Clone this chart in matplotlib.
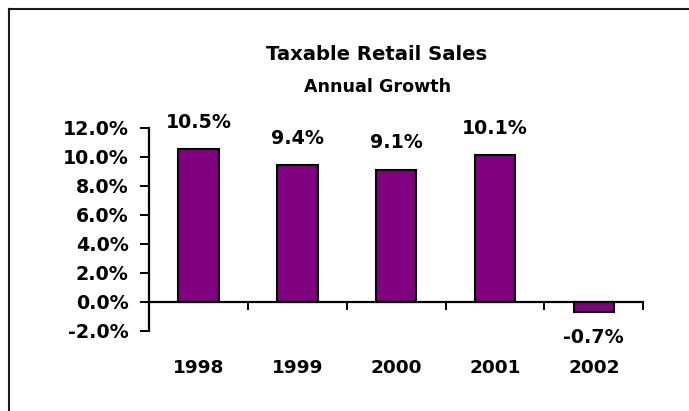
import matplotlib
matplotlib.use("Agg")
import matplotlib.pyplot as plt
from matplotlib.lines import Line2D
from matplotlib.ticker import FixedLocator, FuncFormatter

# Annual growth of taxable retail sales, in percent
years = ["1998", "1999", "2000", "2001", "2002"]
growth = [10.5, 9.4, 9.1, 10.1, -0.7]
y_ticks = [-2, 0, 2, 4, 6, 8, 10, 12]

title = "Taxable Retail Sales"
subtitle = "Annual Growth"

W, H, DPI = 689, 411, 100
plt.rcParams["font.family"] = ["DejaVu Sans"]
plt.rcParams["font.weight"] = "bold"

fig = plt.figure(figsize=(W / DPI, H / DPI), dpi=DPI)
fig.patch.set_facecolor("white")

# axes placement in pixels
left_px, right_px = 149, 643.3
top_px, bottom_px = 127.7, 330.7
ax = fig.add_axes([left_px / W, 1 - bottom_px / H,
                   (right_px - left_px) / W, (bottom_px - top_px) / H])

x = list(range(len(years)))
bars = ax.bar(x, growth, width=0.41, color="#800080",
              edgecolor="black", linewidth=1.5, zorder=3)

ax.set_xlim(-0.5, len(years) - 0.5)
ax.set_ylim(-2, 12)

# spines: left axis and a baseline at zero
for s in ("top", "right"):
    ax.spines[s].set_visible(False)
ax.spines["bottom"].set_position(("data", 0))
ax.spines["left"].set_linewidth(1.6)
ax.spines["bottom"].set_linewidth(1.6)
ax.spines["bottom"].set_zorder(4)

ax.yaxis.set_major_locator(FixedLocator(y_ticks))
ax.yaxis.set_major_formatter(FuncFormatter(lambda v, p: f"{v:.1f}%"))
ax.tick_params(axis="y", direction="out", length=6.5, width=1.4, pad=8,
               labelsize=13.7)

# year labels sit well below the zero line; boundary ticks as minor ticks
ax.set_xticks(x)
ax.set_xticklabels(years)
ax.set_xticks([i - 0.5 for i in range(len(years) + 1)], minor=True)
ax.tick_params(axis="x", which="major", length=0, pad=41, labelsize=13.3)
ax.tick_params(axis="x", which="minor", direction="out", length=5.8, width=1.4)

for lbl in ax.get_xticklabels() + ax.get_yticklabels():
    lbl.set_fontweight("bold")

# value labels
for xi, v in zip(x, growth):
    off = 19.5 if v >= 0 else -18.7
    ax.annotate(f"{v:.1f}%", xy=(xi, v), xytext=(0, off),
                textcoords="offset points", ha="center", va="center",
                fontsize=13.7, fontweight="bold")

fig.text(377 / W, 1 - 54.5 / H, title, ha="center", va="center",
         fontsize=14.1, fontweight="bold")
fig.text(377.4 / W, 1 - 87 / H, subtitle, ha="center", va="center",
         fontsize=12.6, fontweight="bold")

# chart frame
fig.add_artist(Line2D([8.5 / W, 8.5 / W], [0, 1 - 9.5 / H],
                      transform=fig.transFigure, color="#1a1a1a", lw=1.5))
fig.add_artist(Line2D([8.5 / W, 1], [1 - 9.5 / H, 1 - 9.5 / H],
                      transform=fig.transFigure, color="#1a1a1a", lw=1.5))

fig.savefig("out.png", dpi=DPI, facecolor="white")
